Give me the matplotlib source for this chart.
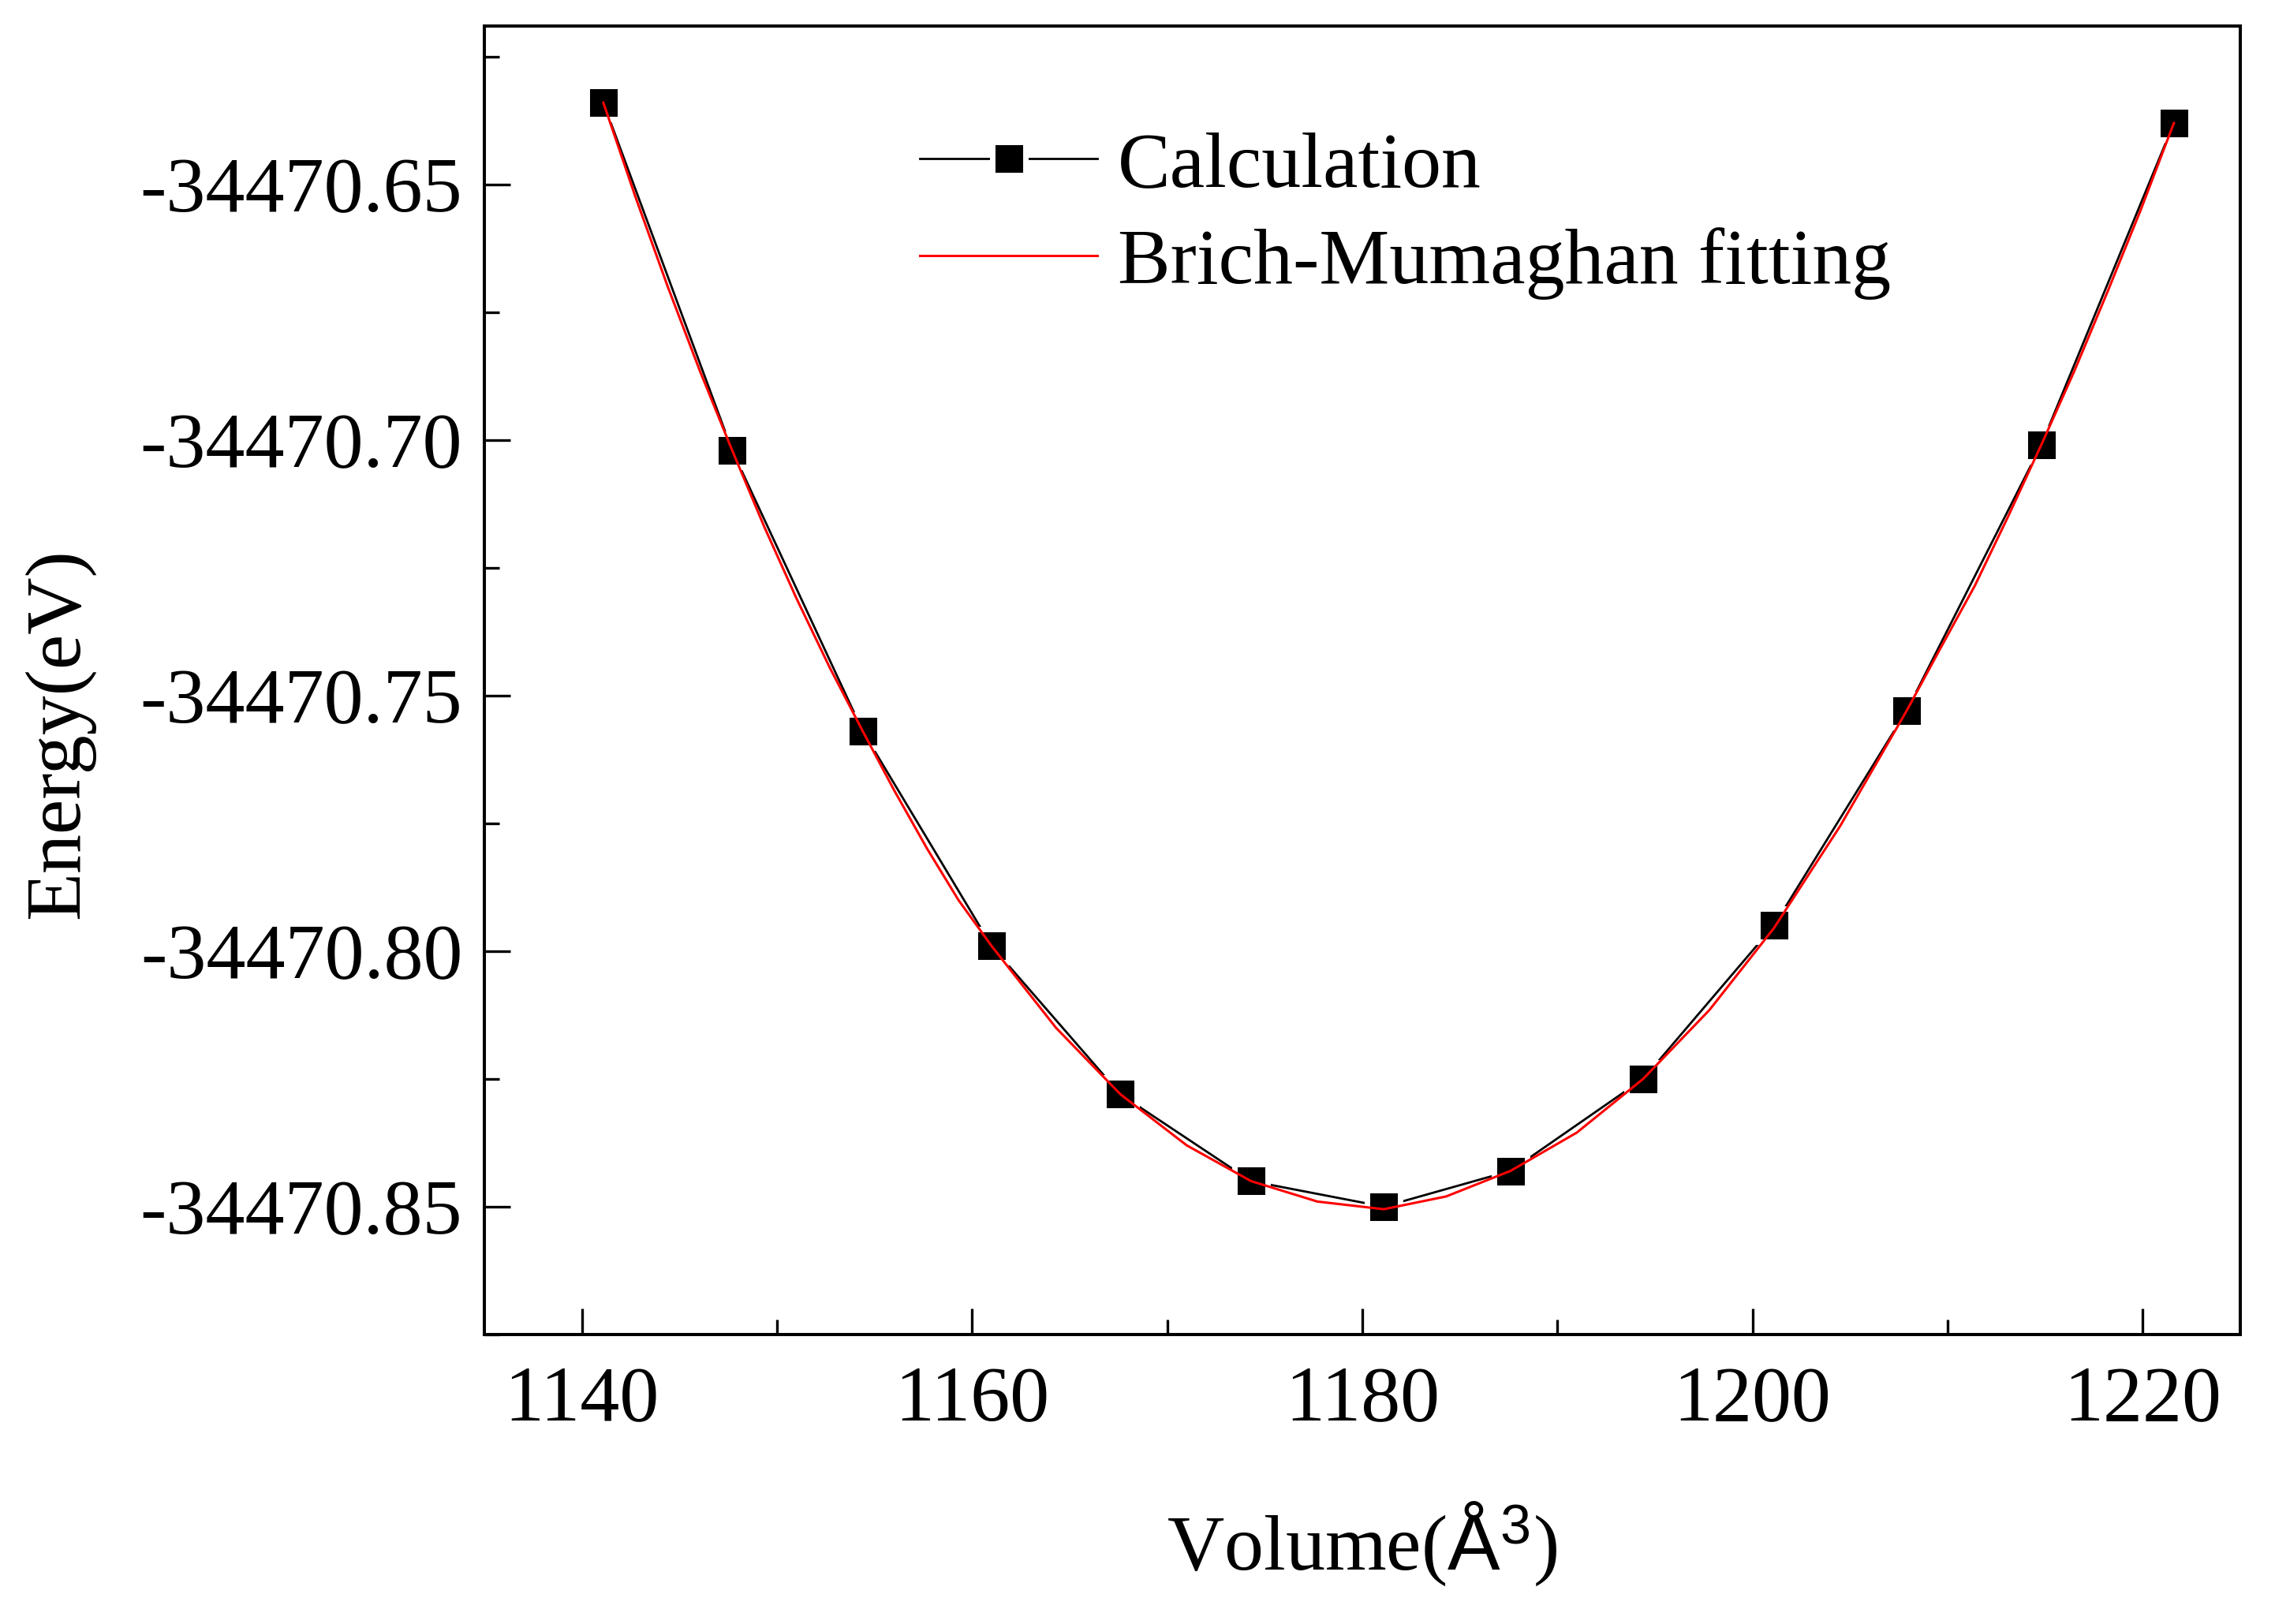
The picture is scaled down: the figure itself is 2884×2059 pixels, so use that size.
import matplotlib
matplotlib.use("Agg")
import matplotlib.pyplot as plt
from matplotlib.ticker import MultipleLocator, AutoMinorLocator, FormatStrFormatter

# calculated points
volume = [1141.1, 1147.7, 1154.4, 1161.0, 1167.6, 1174.3, 1181.1,
          1187.6, 1194.4, 1201.1, 1207.9, 1214.8, 1221.6]
energy = [-34470.634, -34470.702, -34470.757, -34470.799, -34470.828,
          -34470.845, -34470.850, -34470.843, -34470.825, -34470.795,
          -34470.753, -34470.701, -34470.638]

# red fitting curve, read at the points and between them
fit_volume = [1141.1, 1142.75, 1144.4, 1146.05, 1147.7, 1149.35, 1151.0,
              1152.7, 1154.4, 1156.0, 1157.7, 1159.3, 1161.0, 1164.3,
              1167.6, 1171.0, 1174.3, 1177.7, 1181.1, 1184.3, 1187.6,
              1191.0, 1194.4, 1197.8, 1201.1, 1204.5, 1207.9, 1209.6,
              1211.4, 1213.1, 1214.8, 1216.5, 1218.2, 1219.9, 1221.6]
fit_energy = [-34470.634, -34470.6525, -34470.670, -34470.6865, -34470.702,
              -34470.717, -34470.731, -34470.7445, -34470.757, -34470.7685,
              -34470.780, -34470.790, -34470.799, -34470.815, -34470.828,
              -34470.838, -34470.845, -34470.849, -34470.8505, -34470.848,
              -34470.843, -34470.8355, -34470.825, -34470.8115, -34470.7955,
              -34470.7755, -34470.753, -34470.741, -34470.7285, -34470.715,
              -34470.701, -34470.6865, -34470.671, -34470.655, -34470.638]

plt.rcParams['font.family'] = ['Liberation Serif', 'DejaVu Serif']
plt.rcParams['mathtext.fontset'] = 'custom'
plt.rcParams['mathtext.rm'] = 'Liberation Serif'
plt.rcParams['mathtext.it'] = 'Liberation Serif:italic'
plt.rcParams['mathtext.bf'] = 'Liberation Serif:bold'
plt.rcParams['mathtext.sf'] = 'Liberation Sans'
plt.rcParams['axes.unicode_minus'] = False

fig = plt.figure(figsize=(28.84, 20.59), dpi=100)
ax = fig.add_axes([0.2129, 0.1783, 0.7718, 0.8057])

# white marker edge gives the little gap between line and square
ax.plot(volume, energy, color='black', lw=2.0, marker='s', ms=30.2,
        mfc='black', mec='white', mew=5.0, label='Calculation', zorder=3)
ax.plot(fit_volume, fit_energy, color='red', lw=2.2,
        label='Brich-Mumaghan fitting', zorder=4)

ax.set_xlim(1135, 1225)
ax.set_ylim(-34470.875, -34470.619)

ax.xaxis.set_major_locator(MultipleLocator(20))
ax.xaxis.set_minor_locator(AutoMinorLocator(2))
ax.yaxis.set_major_locator(MultipleLocator(0.05))
ax.yaxis.set_minor_locator(AutoMinorLocator(2))
ax.yaxis.set_major_formatter(FormatStrFormatter('%.2f'))

ax.tick_params(which='both', direction='in', width=2.4, top=False, right=False)
ax.tick_params(which='major', length=24, labelsize=72)
ax.tick_params(which='minor', length=14)
ax.tick_params(axis='x', which='major', pad=28)
ax.tick_params(axis='y', which='major', pad=20)
for s in ax.spines.values():
    s.set_linewidth(2.9)

ax.set_xlabel(r'Volume($\mathsf{Å}^{\mathsf{3}}$)', fontsize=72, labelpad=58)
ax.set_ylabel('Energy(eV)', fontsize=72)
ax.yaxis.set_label_coords(-0.222, 0.459)

ax.legend(loc='upper left', bbox_to_anchor=(0.248, 0.92), frameon=False,
          fontsize=72, handlelength=2.25, handletextpad=0.26,
          labelspacing=0.31, borderpad=0, borderaxespad=0)

fig.savefig('out.png', dpi=100)
